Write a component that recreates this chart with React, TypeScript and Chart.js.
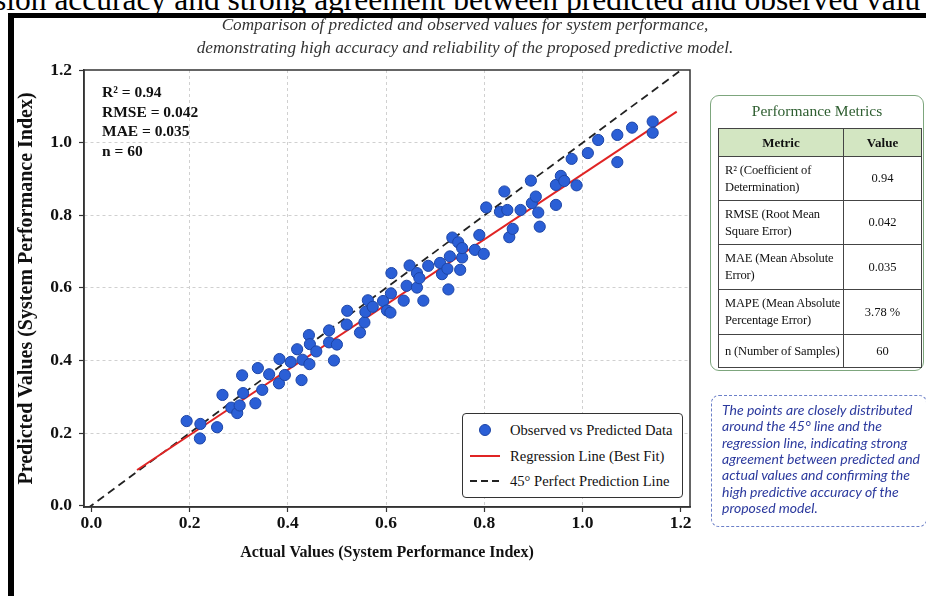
import React, { useEffect, useRef } from "react";
import { Chart, registerables } from "chart.js";
Chart.register(...registerables);

// ---- data ----
const actualValues = [
  0.194, 0.222, 0.221, 0.256, 0.267, 0.285, 0.297, 0.302, 0.307, 0.309,
  0.334, 0.339, 0.348, 0.362, 0.382, 0.383, 0.394, 0.406, 0.419, 0.428,
  0.430, 0.443, 0.445, 0.444, 0.458, 0.484, 0.484, 0.494, 0.500, 0.521,
  0.520, 0.547, 0.556, 0.558, 0.563, 0.573, 0.594, 0.602, 0.609, 0.610,
  0.611, 0.636, 0.642, 0.648, 0.663, 0.663, 0.668, 0.676, 0.686, 0.710,
  0.714, 0.725, 0.727, 0.730, 0.735, 0.747, 0.751, 0.755, 0.755, 0.781,
  0.790, 0.799, 0.804, 0.832, 0.841, 0.847, 0.851, 0.858, 0.874, 0.895,
  0.897, 0.905, 0.910, 0.913, 0.946, 0.946, 0.956, 0.963, 0.978, 0.988,
  1.011, 1.032, 1.071, 1.071, 1.101, 1.143, 1.143,
];
const predictedValues = [
  0.233, 0.225, 0.185, 0.216, 0.305, 0.270, 0.255, 0.276, 0.359, 0.310,
  0.282, 0.379, 0.319, 0.362, 0.337, 0.404, 0.360, 0.396, 0.431, 0.346,
  0.402, 0.470, 0.445, 0.390, 0.425, 0.483, 0.450, 0.400, 0.444, 0.537,
  0.499, 0.477, 0.505, 0.534, 0.566, 0.548, 0.564, 0.538, 0.532, 0.585,
  0.641, 0.565, 0.606, 0.662, 0.641, 0.601, 0.627, 0.565, 0.661, 0.669,
  0.638, 0.653, 0.596, 0.687, 0.739, 0.726, 0.650, 0.684, 0.710, 0.705,
  0.746, 0.694, 0.822, 0.810, 0.866, 0.815, 0.740, 0.763, 0.815, 0.896,
  0.834, 0.852, 0.808, 0.769, 0.884, 0.829, 0.909, 0.895, 0.956, 0.883,
  0.972, 1.008, 1.022, 0.947, 1.042, 1.059, 1.028,
];
const regressionX = [0.093, 1.192];
const regressionY = [0.098, 1.086];
const diagonalX = [-0.03, 1.25];
const diagonalY = [-0.03, 1.25];
const xTicks = [0, 0.2, 0.4, 0.6, 0.8, 1.0, 1.2];
const yTicks = [0, 0.2, 0.4, 0.6, 0.8, 1.0, 1.2];
const statsLines = ["R² = 0.94", "RMSE = 0.042", "MAE = 0.035", "n = 60"];
const metricNames = [
  ["R² (Coefficient of", "Determination)"],
  ["RMSE (Root Mean", "Square Error)"],
  ["MAE (Mean Absolute", "Error)"],
  ["MAPE (Mean Absolute", "Percentage Error)"],
  ["n (Number of Samples)"],
];
const metricValues = ["0.94", "0.042", "0.035", "3.78 %", "60"];
const legendLabels = [
  "Observed vs Predicted Data",
  "Regression Line (Best Fit)",
  "45° Perfect Prediction Line",
];
const titleLines = [
  "Comparison of predicted and observed values for system performance,",
  "demonstrating high accuracy and reliability of the proposed predictive model.",
];
const clippedCaption =
  "sion accuracy and strong agreement between predicted and observed valu";
const noteLines = [
  "The points are closely distributed",
  "around the 45° line and the",
  "regression line, indicating strong",
  "agreement between predicted and",
  "actual values and confirming the",
  "high predictive accuracy of the",
  "proposed model.",
];

const serif = '"Liberation Serif", "Times New Roman", serif';
const POINT_FILL = "#2b5fd6";
const POINT_EDGE = "#1d45a6";
const RED = "#e02424";

const boxPlugin = {
  id: "plotBox",
  afterDraw(chart: any) {
    const { ctx, chartArea } = chart;
    const { left, top, right, bottom } = chartArea;
    ctx.save();
    ctx.strokeStyle = "#333";
    ctx.lineWidth = 1.5;
    ctx.strokeRect(left, top, right - left, bottom - top);
    ctx.restore();
  },
};

export default function App() {
  const ref = useRef<HTMLCanvasElement | null>(null);

  useEffect(() => {
    if (!ref.current) return;
    const hideEdge = (c: any) =>
      c.tick && (c.tick.value === 0 || Math.abs(c.tick.value - 1.2) < 1e-9)
        ? "rgba(0,0,0,0)"
        : "#d0d0d0";
    const chart = new Chart(ref.current, {
      type: "scatter",
      data: {
        datasets: [
          {
            label: legendLabels[0],
            data: actualValues.map((x, i) => ({ x, y: predictedValues[i] })),
            backgroundColor: POINT_FILL,
            borderColor: POINT_EDGE,
            borderWidth: 1,
            pointRadius: 5.6,
          },
          {
            label: legendLabels[1],
            data: regressionX.map((x, i) => ({ x, y: regressionY[i] })),
            showLine: true,
            borderColor: RED,
            borderWidth: 2,
            pointRadius: 0,
          },
          {
            label: legendLabels[2],
            data: diagonalX.map((x, i) => ({ x, y: diagonalY[i] })),
            showLine: true,
            borderColor: "#222",
            borderWidth: 1.8,
            borderDash: [8, 5],
            pointRadius: 0,
          },
        ],
      },
      options: {
        animation: false,
        responsive: false,
        maintainAspectRatio: false,
        layout: { padding: { left: 14, top: 70, right: 236, bottom: 29 } },
        plugins: { legend: { display: false }, tooltip: { enabled: false } },
        scales: {
          x: {
            type: "linear",
            min: -0.015,
            max: 1.219,
            afterBuildTicks: (a: any) => {
              a.ticks = xTicks.map((v) => ({ value: v }));
            },
            afterFit: (s: any) => {
              s.height = 60;
            },
            grid: {
              color: hideEdge,
              lineWidth: 1,
              drawTicks: true,
              tickLength: 5,
              tickColor: "#333",
              tickWidth: 1.2,
            },
            border: { display: true, color: "#333", width: 1.5, dash: [3, 3] },
            ticks: {
              color: "#111",
              padding: 1,
              font: { family: serif, size: 17.5, weight: "bold" },
              callback: (v: any) => Number(v).toFixed(1),
            },
            title: {
              display: true,
              text: "Actual Values (System Performance Index)",
              color: "#111",
              font: { family: serif, size: 16, weight: "bold" },
              padding: { top: 0, bottom: 5 },
            },
          },
          y: {
            type: "linear",
            min: -0.004,
            max: 1.201,
            afterBuildTicks: (a: any) => {
              a.ticks = yTicks.map((v) => ({ value: v }));
            },
            afterFit: (s: any) => {
              s.width = 70;
            },
            grid: {
              color: hideEdge,
              lineWidth: 1,
              drawTicks: true,
              tickLength: 5,
              tickColor: "#333",
              tickWidth: 1.2,
            },
            border: { display: true, color: "#333", width: 1.5, dash: [3, 3] },
            ticks: {
              color: "#111",
              padding: 7,
              font: { family: serif, size: 17.5, weight: "bold" },
              callback: (v: any) => Number(v).toFixed(1),
            },
            title: {
              display: true,
              text: "Predicted Values (System Performance Index)",
              color: "#111",
              font: { family: serif, size: 20, weight: "bold" },
              padding: { top: 1, bottom: 0 },
            },
          },
        },
      },
      plugins: [boxPlugin],
    } as any);
    return () => chart.destroy();
  }, []);

  const abs = (s: any) => ({ position: "absolute" as const, ...s });

  return (
    <div
      style={{
        position: "fixed",
        left: 0,
        top: 0,
        width: 926,
        height: 596,
        overflow: "hidden",
        background: "#fff",
        fontFamily: serif,
      }}
    >
      {/* clipped caption at the very top */}
      <div
        style={abs({
          left: -6,
          top: -16,
          fontSize: 31.5,
          lineHeight: "32px",
          whiteSpace: "nowrap",
          color: "#000",
        })}
      >
        {clippedCaption}
      </div>
      {/* black frame */}
      <div
        style={abs({
          left: 8,
          top: 13,
          width: 1200,
          height: 900,
          borderLeft: "6px solid #000",
          borderTop: "5px solid #000",
          background: "#fff",
        })}
      />
      <canvas
        ref={ref}
        width={926}
        height={596}
        style={abs({ left: 0, top: 0, width: 926, height: 596 })}
      />
      {/* subtitle */}
      {titleLines.map((t, i) => (
        <div
          key={i}
          style={abs({
            left: 0,
            width: 930,
            top: 14 + i * 23,
            textAlign: "center",
            fontStyle: "italic",
            fontSize: 17.2,
            lineHeight: "22px",
            color: "#333",
            whiteSpace: "nowrap",
          })}
        >
          {t}
        </div>
      ))}
      {/* stats */}
      {statsLines.map((t, i) => (
        <div
          key={i}
          style={abs({
            left: 102,
            top: 82 + i * 19.6,
            fontSize: 15.5,
            lineHeight: "19px",
            fontWeight: "bold",
            color: "#111",
            whiteSpace: "nowrap",
          })}
        >
          {t}
        </div>
      ))}
      {/* legend */}
      <div
        style={abs({
          left: 462,
          top: 413,
          width: 219,
          height: 83,
          border: "1.3px solid #333",
          borderRadius: 4,
          background: "#fff",
        })}
      />
      {legendLabels.map((t, i) => (
        <div
          key={i}
          style={abs({
            left: 510,
            top: 421 + i * 25.5,
            fontSize: 14.6,
            lineHeight: "18px",
            color: "#111",
            whiteSpace: "nowrap",
          })}
        >
          {t}
        </div>
      ))}
      <div
        style={abs({
          left: 479,
          top: 424,
          width: 12,
          height: 12,
          borderRadius: "50%",
          background: POINT_FILL,
          border: `1px solid ${POINT_EDGE}`,
          boxSizing: "border-box",
        })}
      />
      <div style={abs({ left: 470, top: 455, width: 30, height: 0, borderTop: `2px solid ${RED}` })} />
      <svg style={abs({ left: 470, top: 479, width: 32, height: 4 })} width={32} height={4}>
        <line x1={0} y1={2} x2={32} y2={2} stroke="#222" strokeWidth={2} strokeDasharray="7 4" />
      </svg>

      {/* performance metrics panel */}
      <div
        style={abs({
          left: 710,
          top: 95,
          width: 214,
          height: 276,
          border: "1px solid #7da67d",
          borderRadius: 9,
          background: "#fff",
          boxSizing: "border-box",
        })}
      />
      <div
        style={abs({
          left: 710,
          width: 214,
          top: 101,
          textAlign: "center",
          fontSize: 15.5,
          lineHeight: "20px",
          color: "#2e5e30",
        })}
      >
        Performance Metrics
      </div>
      <table
        style={abs({
          left: 718,
          top: 128,
          width: 203,
          borderCollapse: "collapse",
          fontSize: 12.5,
          color: "#111",
          tableLayout: "fixed",
        })}
      >
        <colgroup>
          <col style={{ width: 125 }} />
          <col style={{ width: 78 }} />
        </colgroup>
        <thead>
          <tr style={{ height: 28, background: "#d3e6c2" }}>
            <th style={{ border: "1px solid #444", fontWeight: "bold", fontSize: 13 }}>Metric</th>
            <th style={{ border: "1px solid #444", fontWeight: "bold", fontSize: 13 }}>Value</th>
          </tr>
        </thead>
        <tbody>
          {metricNames.map((lines, i) => (
            <tr key={i} style={{ height: [44, 44, 45, 45, 33][i] }}>
              <td
                style={{
                  border: "1px solid #444",
                  padding: "0 2px 0 6px",
                  lineHeight: "17px",
                  whiteSpace: "nowrap",
                  letterSpacing: "-0.15px",
                }}
              >
                {lines.map((l, j) => (
                  <div key={j}>{l}</div>
                ))}
              </td>
              <td style={{ border: "1px solid #444", textAlign: "center" }}>{metricValues[i]}</td>
            </tr>
          ))}
        </tbody>
      </table>

      {/* note box */}
      <div
        style={abs({
          left: 711,
          top: 395,
          width: 216,
          height: 132,
          border: "1.2px dashed #6b7fc8",
          borderRadius: 8,
          boxSizing: "border-box",
          background: "#fff",
        })}
      />
      {noteLines.map((t, i) => (
        <div
          key={i}
          style={abs({
            left: 722,
            top: 402 + i * 16.3,
            fontFamily: "Lato, 'Open Sans', sans-serif",
            fontStyle: "italic",
            fontSize: 14,
            lineHeight: "16px",
            color: "#2c3a9e",
            whiteSpace: "nowrap",
          })}
        >
          {t}
        </div>
      ))}
    </div>
  );
}
